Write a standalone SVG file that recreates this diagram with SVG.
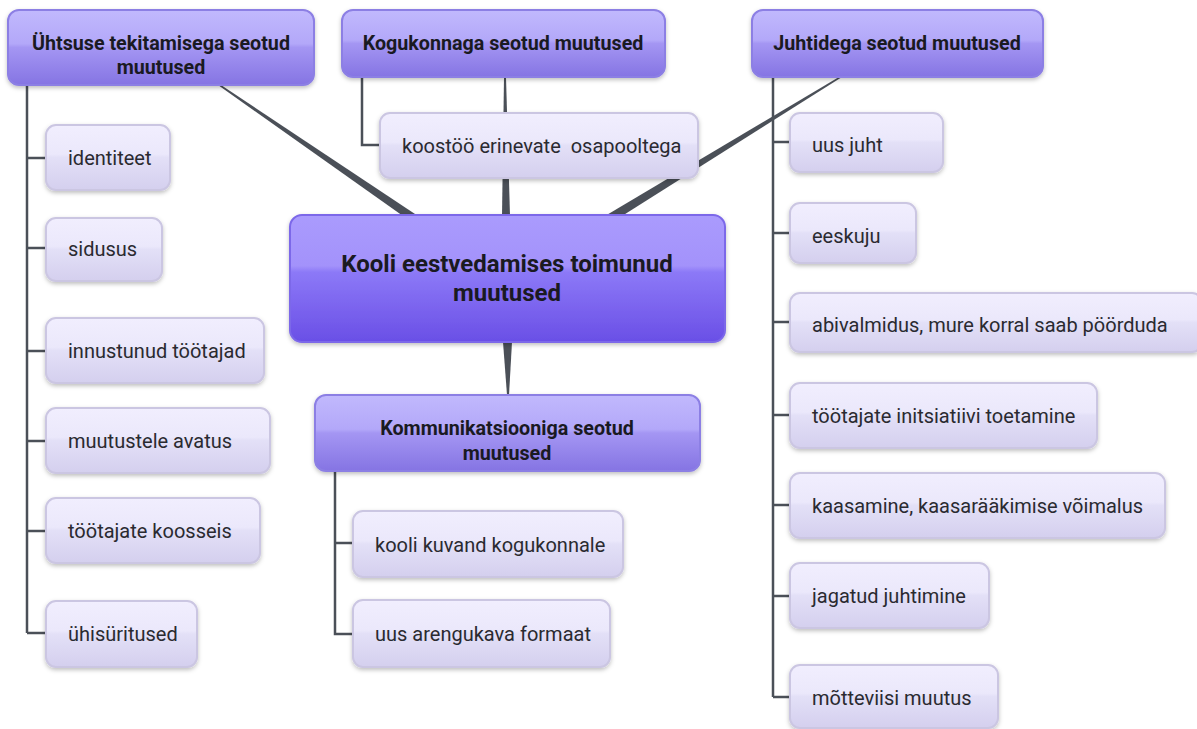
<svg xmlns="http://www.w3.org/2000/svg" width="1197" height="729" viewBox="0 0 1197 729">
<defs>
<linearGradient id="gP" x1="0" y1="0" x2="0" y2="1">
<stop offset="0" stop-color="#c1b9fd"/><stop offset="0.45" stop-color="#b3a8f9"/><stop offset="0.5" stop-color="#a496f3"/><stop offset="1" stop-color="#8574e3"/>
</linearGradient>
<linearGradient id="gC" x1="0" y1="0" x2="0" y2="1">
<stop offset="0" stop-color="#aa9bfd"/><stop offset="0.4" stop-color="#a392fb"/><stop offset="0.45" stop-color="#8c79f7"/><stop offset="1" stop-color="#6a4fe6"/>
</linearGradient>
<linearGradient id="gK" x1="0" y1="0" x2="0" y2="1">
<stop offset="0" stop-color="#f1eefe"/><stop offset="0.45" stop-color="#ebe8fb"/><stop offset="0.5" stop-color="#e3e0f7"/><stop offset="1" stop-color="#d4cfee"/>
</linearGradient>
<filter id="sh" x="-10%" y="-20%" width="120%" height="150%">
<feDropShadow dx="0" dy="2" stdDeviation="2" flood-color="#000" flood-opacity="0.25"/>
</filter>
<style>
.p rect{fill:url(#gP);stroke:#8c7fe4;stroke-width:2;filter:url(#sh)}
.c rect{fill:url(#gC);stroke:#7b67e9;stroke-width:2;filter:url(#sh)}
.k rect{fill:url(#gK);stroke:#cbc6e2;stroke-width:2;filter:url(#sh)}
.p text{font-family:Roboto,"Liberation Sans",sans-serif;font-weight:bold;font-size:19.7px;fill:#1a1a22;text-anchor:middle}
.c text{font-family:Roboto,"Liberation Sans",sans-serif;font-weight:bold;font-size:24px;fill:#1a1a22;text-anchor:middle}
.k text{font-family:Roboto,"Liberation Sans",sans-serif;font-size:20px;fill:#2a2a30;white-space:pre}
.ln{fill:none;stroke:#4b5058;stroke-width:2.5}
.tp{fill:#4b5058}
</style>
</defs>
<rect width="1197" height="729" fill="#ffffff"/>
<g id="connectors">
<polygon class="tp" points="218,85 221,85 418,216 403,216"/>
<polygon class="tp" points="504,77 506,77 510,216 502,216"/>
<polygon class="tp" points="839,77 842,77 622,216 605,216"/>
<polygon class="tp" points="503,342 512,342 509,395 507,395"/>
<path class="ln" d="M27,85 V633 M27,158 H46 M27,248 H46 M27,351 H46 M27,441 H46 M27,531 H46 M27,633 H46"/>
<path class="ln" d="M362,77 V145 H380"/>
<path class="ln" d="M773,77 V697 M773,142 H790 M773,233 H790 M773,322 H790 M773,415 H790 M773,505 H790 M773,596 H790 M773,697 H790"/>
<path class="ln" d="M335,471 V634 H353 M335,543 H353"/>
</g>
<g id="n-center" class="c"><rect x="290" y="215" width="435" height="127" rx="12"/><text x="507" y="272">Kooli eestvedamises toimunud</text><text x="507" y="301">muutused</text></g>
<g id="n-uhtsus" class="p"><rect x="8" y="10" width="306" height="75" rx="11"/><text x="161" y="50">Ühtsuse tekitamisega seotud</text><text x="161" y="74">muutused</text></g>
<g id="n-kogukond" class="p"><rect x="342" y="10" width="323" height="67" rx="11"/><text x="503" y="50">Kogukonnaga seotud muutused</text></g>
<g id="n-juhid" class="p"><rect x="752" y="10" width="291" height="67" rx="11"/><text x="897" y="50">Juhtidega seotud muutused</text></g>
<g id="n-komm" class="p"><rect x="315" y="395" width="385" height="76" rx="11"/><text x="507" y="435">Kommunikatsiooniga seotud</text><text x="507" y="460">muutused</text></g>
<g id="n-koostoo" class="k"><rect x="380" y="113" width="318" height="65" rx="10"/><text x="402" y="153">koostöö erinevate  osapooltega</text></g>
<g id="n-identiteet" class="k"><rect x="46" y="125" width="124" height="65" rx="10"/><text x="68" y="165">identiteet</text></g>
<g id="n-sidusus" class="k"><rect x="46" y="218" width="116" height="63" rx="10"/><text x="68" y="256">sidusus</text></g>
<g id="n-innustunud" class="k"><rect x="46" y="318" width="218" height="65" rx="10"/><text x="68" y="358">innustunud töötajad</text></g>
<g id="n-muutustele" class="k"><rect x="46" y="408" width="224" height="65" rx="10"/><text x="68" y="448">muutustele avatus</text></g>
<g id="n-koosseis" class="k"><rect x="46" y="498" width="214" height="65" rx="10"/><text x="68" y="538">töötajate koosseis</text></g>
<g id="n-uhisuritused" class="k"><rect x="46" y="601" width="151" height="66" rx="10"/><text x="68" y="641">ühisüritused</text></g>
<g id="n-uusjuht" class="k"><rect x="790" y="113" width="153" height="59" rx="10"/><text x="812" y="152">uus juht</text></g>
<g id="n-eeskuju" class="k"><rect x="790" y="203" width="126" height="60" rx="10"/><text x="812" y="243">eeskuju</text></g>
<g id="n-abivalmidus" class="k"><rect x="790" y="293" width="412" height="59" rx="10"/><text x="812" y="332">abivalmidus, mure korral saab pöörduda</text></g>
<g id="n-initsiatiiv" class="k"><rect x="790" y="383" width="307" height="65" rx="10"/><text x="812" y="423">töötajate initsiatiivi toetamine</text></g>
<g id="n-kaasamine" class="k"><rect x="790" y="473" width="375" height="65" rx="10"/><text x="812" y="513">kaasamine, kaasarääkimise võimalus</text></g>
<g id="n-jagatud" class="k"><rect x="790" y="563" width="199" height="65" rx="10"/><text x="812" y="603">jagatud juhtimine</text></g>
<g id="n-motteviis" class="k"><rect x="790" y="665" width="208" height="63" rx="10"/><text x="812" y="705">mõtteviisi muutus</text></g>
<g id="n-kuvand" class="k"><rect x="353" y="511" width="270" height="66" rx="10"/><text x="375" y="552">kooli kuvand kogukonnale</text></g>
<g id="n-arengukava" class="k"><rect x="353" y="600" width="257" height="67" rx="10"/><text x="375" y="641">uus arengukava formaat</text></g>
</svg>
